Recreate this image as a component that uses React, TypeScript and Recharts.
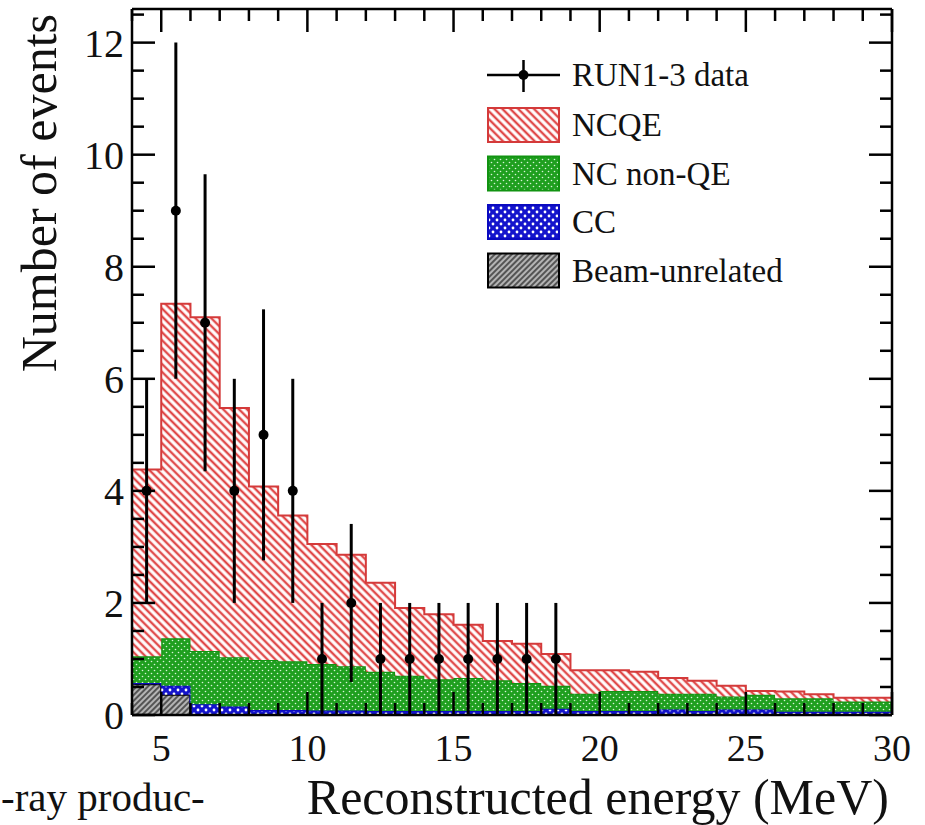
import {
  Area,
  ComposedChart,
  ErrorBar,
  Label,
  Legend,
  Scatter,
  XAxis,
  YAxis,
} from "recharts";

// 1 MeV bins, lower edges
const binLow = [4, 5, 6, 7, 8, 9, 10, 11, 12, 13, 14, 15, 16, 17, 18, 19, 20, 21, 22, 23, 24, 25, 26, 27, 28, 29];
const binHighEdge = 30;

// stacked MC components, bottom to top
const beamUnrelated = [0.55, 0.36, 0, 0, 0, 0, 0, 0, 0, 0, 0, 0, 0, 0, 0, 0, 0, 0, 0, 0, 0, 0, 0, 0, 0, 0];
const ccEvents = [0.02, 0.16, 0.19, 0.15, 0.09, 0.09, 0.08, 0.08, 0.07, 0.07, 0.07, 0.07, 0.07, 0.07, 0.11, 0.07, 0.07, 0.07, 0.1, 0.07, 0.1, 0.1, 0.06, 0.06, 0.06, 0.06];
const ncNonQE = [0.48, 0.85, 0.95, 0.88, 0.89, 0.87, 0.83, 0.79, 0.7, 0.63, 0.57, 0.59, 0.55, 0.5, 0.41, 0.31, 0.36, 0.36, 0.28, 0.31, 0.23, 0.26, 0.24, 0.24, 0.18, 0.18];
const ncqeEvents = [3.33, 5.97, 5.96, 4.45, 3.1, 2.6, 2.14, 1.99, 1.59, 1.21, 1.16, 0.95, 0.7, 0.7, 0.57, 0.42, 0.37, 0.34, 0.28, 0.23, 0.19, 0.07, 0.12, 0.07, 0.07, 0.07];

// RUN1-3 data points
const dataEnergy = [4.5, 5.5, 6.5, 7.5, 8.5, 9.5, 10.5, 11.5, 12.5, 13.5, 14.5, 15.5, 16.5, 17.5, 18.5];
const dataCounts = [4, 9, 7, 4, 5, 4, 1, 2, 1, 1, 1, 1, 1, 1, 1];
const dataErrors = [2, 3, 2.65, 2, 2.24, 2, 1, 1.41, 1, 1, 1, 1, 1, 1, 1];

const xTicks = [4, 5, 6, 7, 8, 9, 10, 11, 12, 13, 14, 15, 16, 17, 18, 19, 20, 21, 22, 23, 24, 25, 26, 27, 28, 29, 30];
const xLabels = [5, 10, 15, 20, 25, 30];
const yTicks = [0, 0.5, 1, 1.5, 2, 2.5, 3, 3.5, 4, 4.5, 5, 5.5, 6, 6.5, 7, 7.5, 8, 8.5, 9, 9.5, 10, 10.5, 11, 11.5, 12, 12.5];
const yLabels = [0, 2, 4, 6, 8, 10, 12];

const histRows = binLow.map((x, i) => ({
  x,
  beam: beamUnrelated[i],
  cc: ccEvents[i],
  nonqe: ncNonQE[i],
  ncqe: ncqeEvents[i],
}));
const last = histRows[histRows.length - 1];
const histData = [...histRows, { ...last, x: binHighEdge }];

const points = dataEnergy.map((x, i) => ({ x, y: dataCounts[i], err: dataErrors[i] }));

const FONT = '"Liberation Serif", "Times New Roman", serif';
const INK = "#111";
const MAJOR = 23;
const MINOR = 12;
const TICK_W = 2.5;

const BottomTick = (props: any) => {
  const { x, y, payload } = props;
  const major = xLabels.includes(payload.value);
  return (
    <g>
      <line x1={x} x2={x} y1={y} y2={y - (major ? MAJOR : MINOR)} stroke="#000" strokeWidth={TICK_W} />
      {major && (
        <text x={x} y={y + 46} textAnchor="middle" fontFamily={FONT} fontSize={38} fill={INK}>
          {payload.value}
        </text>
      )}
    </g>
  );
};

const TopTick = (props: any) => {
  const { x, y, payload } = props;
  const major = xLabels.includes(payload.value);
  return <line x1={x} x2={x} y1={y} y2={y + (major ? MAJOR : MINOR)} stroke="#000" strokeWidth={TICK_W} />;
};

const LeftTick = (props: any) => {
  const { x, y, payload } = props;
  const major = yLabels.includes(payload.value);
  return (
    <g>
      <line x1={x} x2={x + (major ? MAJOR : MINOR)} y1={y} y2={y} stroke="#000" strokeWidth={TICK_W} />
      {major && (
        <text x={x - 8} y={y + 14} textAnchor="end" fontFamily={FONT} fontSize={40} fill={INK}>
          {payload.value}
        </text>
      )}
    </g>
  );
};

const RightTick = (props: any) => {
  const { x, y, payload } = props;
  const major = yLabels.includes(payload.value);
  return <line x1={x} x2={x - (major ? MAJOR : MINOR)} y1={y} y2={y} stroke="#000" strokeWidth={TICK_W} />;
};

const XTitle = (props: any) => {
  const vb = props.viewBox || { x: 132, y: 715, width: 760 };
  return (
    <text x={vb.x + vb.width - 3} y={vb.y + 99} textAnchor="end" fontFamily={FONT} fontSize={50} fill={INK}>
      Reconstructed energy (MeV)
    </text>
  );
};

const YTitle = () => (
  <text x={56} y={14} transform="rotate(-90 56 14)" textAnchor="end" fontFamily={FONT} fontSize={50} fill={INK}>
    Number of events
  </text>
);

const legendRows = [
  { name: "NCQE", fill: "url(#ncqeHatch)", stroke: "#d43a3a" },
  { name: "NC non-QE", fill: "url(#nonqeDots)", stroke: "#119311" },
  { name: "CC", fill: "url(#ccDots)", stroke: "#0a0ac0" },
  { name: "Beam-unrelated", fill: "url(#beamHatch)", stroke: "#000" },
];

const renderLegend = () => (
  <svg width={340} height={250} style={{ display: "block" }}>
    <line x1={0} x2={73} y1={25} y2={25} stroke="#000" strokeWidth={2.5} />
    <line x1={36.5} x2={36.5} y1={10} y2={42} stroke="#000" strokeWidth={2.5} />
    <circle cx={36.5} cy={25} r={5} fill="#000" />
    <text x={85} y={36} fontFamily={FONT} fontSize={33} fill={INK}>
      RUN1-3 data
    </text>
    {legendRows.map((r, i) => {
      const cy = 75 + i * 48.5;
      return (
        <g key={r.name}>
          <rect x={1} y={cy - 17} width={71} height={34} fill={r.fill} stroke={r.stroke} strokeWidth={2} />
          <text x={85} y={cy + 11} fontFamily={FONT} fontSize={33} fill={INK}>
            {r.name}
          </text>
        </g>
      );
    })}
  </svg>
);

const DataDot = (props: any) => <circle cx={props.cx} cy={props.cy} r={5} fill="#000" />;

export default function App() {
  return (
    <div style={{ position: "absolute", left: 0, top: 0, width: 925, height: 825, background: "#fff", overflow: "hidden" }}>
      <ComposedChart width={925} height={825} data={histData} margin={{ top: 0, right: 0, bottom: 0, left: 0 }}>
        <defs>
          <pattern id="ncqeHatch" patternUnits="userSpaceOnUse" width={5.6} height={5.6} patternTransform="rotate(-45)">
            <rect width={5.6} height={5.6} fill="#fff" />
            <line x1={2.8} x2={2.8} y1={0} y2={5.6} stroke="#e04a4a" strokeWidth={2.4} />
          </pattern>
          <pattern id="nonqeDots" patternUnits="userSpaceOnUse" width={6} height={6}>
            <rect width={6} height={6} fill="#1f9f1f" />
            <circle cx={1.5} cy={1.5} r={0.8} fill="#d8f4d8" />
            <circle cx={4.5} cy={4.5} r={0.8} fill="#d8f4d8" />
          </pattern>
          <pattern id="ccDots" patternUnits="userSpaceOnUse" width={8} height={8}>
            <rect width={8} height={8} fill="#1414cc" />
            <circle cx={2} cy={2} r={1.4} fill="#fff" />
            <circle cx={6} cy={6} r={1.4} fill="#fff" />
          </pattern>
          <pattern id="beamHatch" patternUnits="userSpaceOnUse" width={4} height={4} patternTransform="rotate(45)">
            <rect width={4} height={4} fill="#b4b4b4" />
            <line x1={2} x2={2} y1={0} y2={4} stroke="#333" strokeWidth={1.5} />
          </pattern>
        </defs>

        <XAxis
          dataKey="x"
          type="number"
          domain={[4, 30]}
          allowDataOverflow
          ticks={xTicks}
          interval={0}
          height={110}
          tickSize={0}
          tickMargin={0}
          tick={<BottomTick />}
          axisLine={{ stroke: "#000", strokeWidth: 2.5 }}
        >
          <Label content={<XTitle />} />
        </XAxis>
        <XAxis
          xAxisId="top"
          orientation="top"
          dataKey="x"
          type="number"
          domain={[4, 30]}
          allowDataOverflow
          ticks={xTicks}
          interval={0}
          height={9}
          tickSize={0}
          tickMargin={0}
          tick={<TopTick />}
          axisLine={{ stroke: "#000", strokeWidth: 2.5 }}
        />
        <YAxis
          type="number"
          domain={[0, 12.6]}
          allowDataOverflow
          ticks={yTicks}
          interval={0}
          width={132}
          tickSize={0}
          tickMargin={0}
          tick={<LeftTick />}
          axisLine={{ stroke: "#000", strokeWidth: 2.5 }}
        >
          <Label content={<YTitle />} />
        </YAxis>
        <YAxis
          yAxisId="right"
          orientation="right"
          type="number"
          domain={[0, 12.6]}
          allowDataOverflow
          ticks={yTicks}
          interval={0}
          width={33}
          tickSize={0}
          tickMargin={0}
          tick={<RightTick />}
          axisLine={{ stroke: "#000", strokeWidth: 2.5 }}
        />

        <Area type="stepAfter" dataKey="beam" stackId="mc" fill="url(#beamHatch)" fillOpacity={1} stroke="#000" strokeWidth={2} dot={false} activeDot={false} isAnimationActive={false} />
        <Area type="stepAfter" dataKey="cc" stackId="mc" fill="url(#ccDots)" fillOpacity={1} stroke="#0a0ac0" strokeWidth={2} dot={false} activeDot={false} isAnimationActive={false} />
        <Area type="stepAfter" dataKey="nonqe" stackId="mc" fill="url(#nonqeDots)" fillOpacity={1} stroke="#119311" strokeWidth={2} dot={false} activeDot={false} isAnimationActive={false} />
        <Area type="stepAfter" dataKey="ncqe" stackId="mc" fill="url(#ncqeHatch)" fillOpacity={1} stroke="#d43a3a" strokeWidth={2} dot={false} activeDot={false} isAnimationActive={false} />

        <Scatter data={points} dataKey="y" shape={<DataDot />} isAnimationActive={false}>
          <ErrorBar dataKey="err" direction="y" width={0} stroke="#000" strokeWidth={3} isAnimationActive={false} />
        </Scatter>

        <Legend
          layout="horizontal"
          verticalAlign="middle"
          align="center"
          content={renderLegend}
          wrapperStyle={{ position: "absolute", left: 487, top: 50, width: 340, height: 250 }}
        />
      </ComposedChart>
      <div
        style={{
          position: "absolute",
          left: 1,
          top: 772,
          fontFamily: FONT,
          fontSize: 41,
          lineHeight: "50px",
          color: INK,
          whiteSpace: "nowrap",
        }}
      >
        -ray produc-
      </div>
    </div>
  );
}
